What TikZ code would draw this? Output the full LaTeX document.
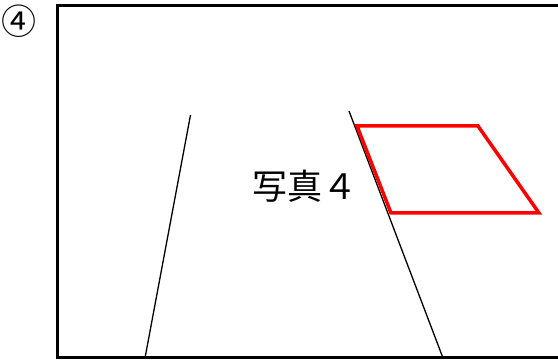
\documentclass[tikz,border=0pt]{standalone}
\usepackage{fontspec}
\newfontfamily\jpfont{Noto Sans CJK JP}
\tikzset{
  frame/.style={line width=3.5pt, line cap=rect},
  road/.style={line width=1.3pt},
  redbox/.style={draw=red, line width=3.5pt, line join=miter},
  label/.style={font=\jpfont\fontsize{35}{35}\selectfont, inner sep=0pt}
}
\begin{document}
\begin{tikzpicture}[x=1pt,y=-1pt]
\useasboundingbox (0,0) rectangle (558,361);
\fill[white] (0,0) rectangle (558,361);
\draw[frame] (560,5.5) -- (57.5,5.5) -- (57.5,357.5) -- (560,357.5);
\coordinate (l1) at (190.5,115);
\coordinate (l2) at (145,358);
\coordinate (r1) at (349,111);
\coordinate (r2) at (443,358);
\draw[road] (l1) -- (l2);
\draw[road] (r1) -- (r2);
\draw[redbox] (357,126) -- (478,126) -- (539,213) -- (391,213) -- cycle;
\node[label] (t) at (305,186) {写真４};
\node[font=\jpfont\fontsize{35}{35}\selectfont, inner sep=0pt] (c) at (19,21) {④};
\end{tikzpicture}
\end{document}
